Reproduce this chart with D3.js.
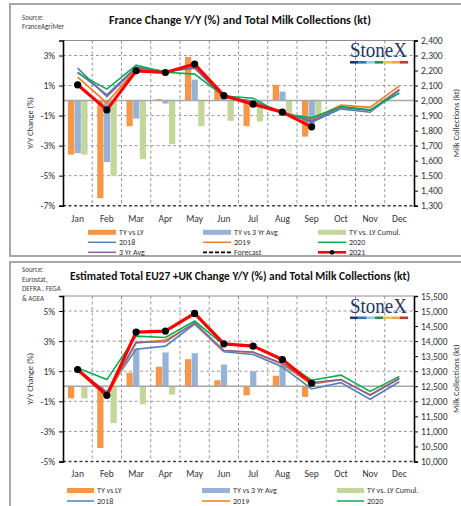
<!DOCTYPE html>
<html>
<head>
<meta charset="utf-8">
<script src="https://cdn.jsdelivr.net/npm/d3@7"></script>
<style>
body { margin: 0; background: #fff; }
text { font-family: Carlito, Lato, "Liberation Sans", sans-serif; fill: #222; }
</style>
</head>
<body>
<svg id="chart" width="461" height="506"></svg>
<script>
var months = ["Jan", "Feb", "Mar", "Apr", "May", "Jun", "Jul", "Aug", "Sep", "Oct", "Nov", "Dec"];

// France - bars (%)
var frTyVsLy   = [-3.6, -6.5, -1.7, 0.1, 2.9, 0.7, -1.7, 1.05, -2.4, null, null, null];
var frTyVs3Yr  = [-3.5, -4.1, -1.2, -0.2, 1.4, 0.3, -0.2, 0.6, -1.6, null, null, null];
var frTyCumul  = [-3.6, -5.0, -3.9, -2.9, -1.7, -1.35, -1.4, -0.95, -1.05, null, null, null];
// France - milk collections (kt)
var fr2018   = [2216, 2027, 2218, 2195, 2223, 2020, 1996, 1925, 1855, 1945, 1922, 2070];
var fr2019   = [2156, 1985, 2211, 2192, 2233, 2025, 1985, 1918, 1875, 1970, 1955, 2098];
var fr2020   = [2183, 2076, 2236, 2189, 2176, 2030, 2016, 1910, 1885, 1960, 1938, 2050];
var fr3YrAvg = [2189, 2038, 2223, 2193, 2216, 2022, 1996, 1920, 1865, 1955, 1935, 2075];
var fr2021   = [2105, 1938, 2198, 2187, 2243, 2033, 1976, 1923, 1825, null, null, null];
var frPctTicks = [-7, -5, -3, -1, 1, 3];
var frKtTicks = [1300, 1400, 1500, 1600, 1700, 1800, 1900, 2000, 2100, 2200, 2300, 2400];

// EU27 + UK - bars (%)
var euTyVsLy  = [-0.8, -4.1, 0.9, 1.3, 1.8, 0.4, -0.6, 0.7, -0.7, null, null, null];
var euTyVs3Yr = [0, 0, 2.5, 2.25, 2.2, 1.45, 1.0, 1.4, 0, null, null, null];
var euTyCumul = [-0.8, -2.45, -1.2, -0.55, -0.05, 0, -0.05, 0, 0, null, null, null];
// EU27 + UK - milk collections (kt)
var eu2018   = [13030, 12310, 13733, 13833, 14567, 13644, 13556, 13144, 12410, 12620, 12070, 12650];
var eu2019   = [13010, 12170, 13933, 14033, 14589, 13678, 13622, 13220, 12570, 12720, 12220, 12780];
var eu2020   = [13110, 12722, 14167, 14122, 14667, 13870, 13860, 13350, 12700, 12870, 12330, 12830];
var eu3YrAvg = [13040, 12260, 13967, 13978, 14611, 13690, 13640, 13256, 12620, 12720, 12200, 12750];
var eu2021   = [13057, 12200, 14300, 14333, 14922, 13911, 13833, 13389, 12600, null, null, null];
var euPctTicks = [-5, -3, -1, 1, 3, 5];
var euKtTicks = [10000, 10500, 11000, 11500, 12000, 12500, 13000, 13500, 14000, 14500, 15000, 15500];

var C = {
    ly: "#f79646", avg: "#95b3d7", cum: "#c4d79b",
    l2018: "#4f81bd", l2019: "#f07d1c", l2020: "#00b050", l3yr: "#8064a2", l2021: "#ff0000"
};
var logoColors = ["#1f3864", "#2e75b6", "#9dc3e6", "#2e8b57", "#e8c840", "#f2a640", "#c0392b"];

var svg = d3.select("#chart");
svg.append("rect").attr("width", 461).attr("height", 506).attr("fill", "#fff");

function drawChart(c) {
    var g = svg.append("g");

    g.append("rect")
        .attr("x", 10).attr("y", c.panelTop)
        .attr("width", 480).attr("height", c.panelBottom - c.panelTop)
        .attr("fill", "none").attr("stroke", "#a6a6a6").attr("stroke-width", 2);

    var x = d3.scaleBand().domain(months).range([63, 414]);
    var y = d3.scaleLinear().domain(c.pctDomain).range([c.bottom, c.top]);
    var yR = d3.scaleLinear().domain(c.ktDomain).range([c.bottom, c.top]);
    var inner = d3.scaleBand().domain(["ly", "avg", "cum"]).range([5, 24.5]).paddingInner(0.06);

    // grid
    months.slice(1).forEach(function(m) {
        g.append("line")
            .attr("x1", x(m)).attr("x2", x(m)).attr("y1", c.top).attr("y2", c.bottom)
            .attr("stroke", "#8c8c8c").attr("stroke-dasharray", "3,2.5").attr("stroke-width", 0.9);
    });
    c.pctTicks.forEach(function(t, i) {
        g.append("line")
            .attr("x1", 63).attr("x2", 414).attr("y1", y(t)).attr("y2", y(t))
            .attr("stroke", i === 0 ? "#404040" : "#8c8c8c")
            .attr("stroke-width", i === 0 ? 1.6 : 0.9)
            .attr("stroke-dasharray", "3,2.5");
    });
    g.append("line")
        .attr("x1", 63).attr("x2", 414).attr("y1", c.top).attr("y2", c.top)
        .attr("stroke", "#8c8c8c").attr("stroke-width", 1);

    // bars
    var barSeries = [
        { key: "ly", vals: c.ly, color: C.ly },
        { key: "avg", vals: c.avg, color: C.avg },
        { key: "cum", vals: c.cum, color: C.cum }
    ];
    barSeries.forEach(function(s) {
        g.selectAll(null)
            .data(s.vals.map(function(v, i) { return { m: months[i], v: v }; })
                .filter(function(d) { return d.v !== null && d.v !== 0; }))
            .enter().append("rect")
            .attr("x", function(d) { return x(d.m) + inner(s.key); })
            .attr("width", inner.bandwidth())
            .attr("y", function(d) { return y(Math.max(0, d.v)); })
            .attr("height", function(d) { return Math.abs(y(d.v) - y(0)); })
            .attr("fill", s.color);
    });

    // zero line
    g.append("line")
        .attr("x1", 63).attr("x2", 414).attr("y1", y(0)).attr("y2", y(0))
        .attr("stroke", "#a6a6a6").attr("stroke-width", 1.6);

    // axes
    g.append("g").attr("transform", "translate(63,0)")
        .call(d3.axisLeft(y).tickValues(c.pctTicks).tickSize(4).tickPadding(4)
            .tickFormat(function(d) { return d + "%"; }))
        .call(function(a) {
            a.select(".domain").attr("stroke", "#000").attr("stroke-width", 1.6);
            a.selectAll(".tick line").attr("stroke", "#000");
            a.selectAll("text").attr("font-size", 9.5).style("fill", "#333");
        });
    g.append("g").attr("transform", "translate(414,0)")
        .call(d3.axisRight(yR).tickValues(c.ktTicks).tickSize(4).tickPadding(3)
            .tickFormat(d3.format(",")))
        .call(function(a) {
            a.select(".domain").attr("stroke", "#000").attr("stroke-width", 1.6);
            a.selectAll(".tick line").attr("stroke", "#000");
            a.selectAll("text").attr("font-size", 9.5).style("fill", "#333");
        });

    months.forEach(function(m) {
        g.append("text")
            .attr("x", x(m) + x.bandwidth() / 2).attr("y", c.xLabelY)
            .attr("text-anchor", "middle").attr("font-size", 9.5).style("fill", "#333")
            .text(m);
    });

    // lines
    var line = d3.line()
        .defined(function(d) { return d !== null; })
        .x(function(d, i) { return x(months[i]) + x.bandwidth() / 2; })
        .y(function(d) { return yR(d); });

    [[c.s2018, C.l2018], [c.s2019, C.l2019], [c.s3yr, C.l3yr], [c.s2020, C.l2020]].forEach(function(p) {
        g.append("path").attr("d", line(p[0]))
            .attr("fill", "none").attr("stroke", p[1]).attr("stroke-width", 1.6);
    });
    g.append("path").attr("d", line(c.s2021))
        .attr("fill", "none").attr("stroke", C.l2021).attr("stroke-width", 3.2)
        .attr("stroke-linejoin", "round");
    g.selectAll(null)
        .data(c.s2021.map(function(v, i) { return { m: months[i], v: v }; })
            .filter(function(d) { return d.v !== null; }))
        .enter().append("circle")
        .attr("cx", function(d) { return x(d.m) + x.bandwidth() / 2; })
        .attr("cy", function(d) { return yR(d.v); })
        .attr("r", 3.6).attr("fill", "#000");

    // titles
    g.append("text").attr("x", 240).attr("y", c.titleY)
        .attr("text-anchor", "middle").attr("font-size", 12.5).attr("font-weight", "bold")
        .style("fill", "#111")
        .attr("textLength", c.titleW).attr("lengthAdjust", "spacingAndGlyphs")
        .text(c.title);
    c.source.forEach(function(s, i) {
        g.append("text").attr("x", 22).attr("y", c.sourceY + i * 9.5)
            .attr("font-size", 7).style("fill", "#404040").text(s);
    });
    var mid = (c.top + c.bottom) / 2;
    g.append("text").attr("transform", "translate(33," + mid + ") rotate(-90)")
        .attr("text-anchor", "middle").attr("font-size", 8.5).style("fill", "#333")
        .text("Y/Y Change (%)");
    g.append("text").attr("transform", "translate(459," + mid + ") rotate(-90)")
        .attr("text-anchor", "middle").attr("font-size", 8.5).style("fill", "#333")
        .text("Milk Collections (kt)");

    // logo
    g.append("text").attr("x", 350).attr("y", c.top + 16.5)
        .style("font-family", "'Liberation Serif', 'DejaVu Serif', serif")
        .attr("font-size", 20).style("fill", "#1f3864")
        .attr("textLength", 57).attr("lengthAdjust", "spacingAndGlyphs")
        .text("StoneX");
    logoColors.forEach(function(col, i) {
        g.append("rect").attr("x", 350 + i * 8.3).attr("y", c.top + 20.5)
            .attr("width", 8.3).attr("height", 2.6).attr("fill", col);
    });

    // legend (rows that fall below the page are not shown in the original either)
    var items = [
        { t: "TY vs LY", type: "bar", col: C.ly },
        { t: "TY vs 3 Yr Avg", type: "bar", col: C.avg },
        { t: "TY vs. LY Cumul.", type: "bar", col: C.cum },
        { t: "2018", type: "line", col: C.l2018 },
        { t: "2019", type: "line", col: C.l2019 },
        { t: "2020", type: "line", col: C.l2020 },
        { t: "3 Yr Avg", type: "line", col: C.l3yr },
        { t: "Forecast", type: "dash", col: "#000" },
        { t: "2021", type: "mark", col: C.l2021 }
    ];
    items.forEach(function(it, i) {
        var col = i % 3, row = Math.floor(i / 3);
        var sx = c.legSwatchX[col], tx = c.legTextX[col], cy = c.legY + row * c.legRowH;
        if (cy > 503) return;
        var sw = tx - sx - 3;
        if (it.type === "bar") {
            g.append("rect").attr("x", sx).attr("y", cy - 2.5).attr("width", sw).attr("height", 5)
                .attr("fill", it.col);
        } else {
            g.append("line").attr("x1", sx).attr("x2", sx + sw).attr("y1", cy).attr("y2", cy)
                .attr("stroke", it.col)
                .attr("stroke-width", it.type === "mark" ? 2.6 : (it.type === "dash" ? 1.8 : 1.5))
                .attr("stroke-dasharray", it.type === "dash" ? "4,2" : null);
            if (it.type === "mark") {
                g.append("circle").attr("cx", sx + sw / 2).attr("cy", cy).attr("r", 2.4).attr("fill", "#000");
            }
        }
        g.append("text").attr("x", tx).attr("y", cy).attr("dy", "0.34em")
            .attr("font-size", 8).style("fill", "#333").text(it.t);
    });
}

drawChart({
    panelTop: 4, panelBottom: 256, top: 40.5, bottom: 205.7,
    pctDomain: [-7, 4], ktDomain: [1300, 2400],
    pctTicks: frPctTicks, ktTicks: frKtTicks,
    ly: frTyVsLy, avg: frTyVs3Yr, cum: frTyCumul,
    s2018: fr2018, s2019: fr2019, s2020: fr2020, s3yr: fr3YrAvg, s2021: fr2021,
    title: "France Change Y/Y (%) and Total Milk Collections (kt)", titleY: 24, titleW: 262,
    source: ["Source:", "FranceAgriMer"], sourceY: 19.5,
    xLabelY: 221.5,
    legSwatchX: [88, 203, 318], legTextX: [119, 234, 349], legY: 232.3, legRowH: 10
});

drawChart({
    panelTop: 262, panelBottom: 530, top: 296, bottom: 461.5,
    pctDomain: [-5, 6], ktDomain: [10000, 15500],
    pctTicks: euPctTicks, ktTicks: euKtTicks,
    ly: euTyVsLy, avg: euTyVs3Yr, cum: euTyCumul,
    s2018: eu2018, s2019: eu2019, s2020: eu2020, s3yr: eu3YrAvg, s2021: eu2021,
    title: "Estimated Total EU27 +UK Change Y/Y (%) and Total Milk Collections (kt)", titleY: 280, titleW: 340,
    source: ["Source:", "Eurostat,", "DEFRA , FEGA", "& AGEA"], sourceY: 272.3,
    xLabelY: 476.5,
    legSwatchX: [67, 202, 337], legTextX: [97, 233, 367], legY: 490.5, legRowH: 10.5
});
</script>
</body>
</html>
